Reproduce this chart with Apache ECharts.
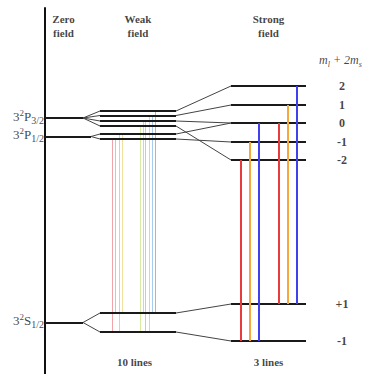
<!DOCTYPE html>
<html><head><meta charset="utf-8">
<script src="https://cdn.jsdelivr.net/npm/echarts@6/dist/echarts.min.js"></script>
<style>html,body{margin:0;padding:0;background:#fff}#c{width:365px;height:374px}</style>
</head><body><div id="c"></div>
<script>
// ---- data (energies in arbitrary units, higher = more energetic) ----
const termNames = ['3²P3/2', '3²P1/2', '3²S1/2'];
const zeroFieldE = [256, 237.5, 51.5];
const weakFieldE = [[263, 258.5, 253, 248], [240, 235], [61, 42]];
const strongLabels = ['2', '1', '0', '-1', '-2'];
const strongE = [288, 269, 251, 232, 214];
const strongSLabels = ['+1', '-1'];
const strongSE = [70, 33];
const weakToStrongP = [[0, 1, 2, 4], [2, 3]];
const weakToStrongS = [0, 1];
// weak-field transitions: [upper term, upper sublevel, lower sublevel]
const weakTransitions = [[1,1,1],[1,1,0],[1,0,1],[1,0,0],[0,3,1],[0,2,0],[0,2,1],[0,1,1],[0,1,0],[0,0,0]];
const weakColors = ['#f0a4a8','#f2b4bc','#f6c894','#f0e0a0','#d6eca0','#b8e4a4','#a8e0b4','#a8e2ec','#a8ccf0','#a8b0e8'];
// strong-field transitions: [upper level, lower level]
const strongTransitions = [[4,1],[3,1],[2,1],[2,0],[1,0],[0,0]];
const strongColors = ['#e83c3c','#f5a83c','#4040ee','#e83c3c','#f5a83c','#4040ee'];
const columnTitles = ['Zero\nfield', 'Weak\nfield', 'Strong\nfield'];
const footerTitles = ['10 lines', '3 lines'];

// ---- layout (diagram x units) ----
const X = { zeroEnd: 38, zeroEndP12: 46, weakStart: 55, weakEnd: 131, strongStart: 186, strongEnd: 261, valLabel: 297 };
const weakTransX = [67.5, 70, 74.5, 77.5, 95.5, 98, 100.5, 104, 107, 110];
const strongTransX = [195.5, 205, 213.5, 233.5, 242.5, 251.5];

const levels = [], connectors = [], texts = [];
zeroFieldE.forEach((e, t) => {
  const xe = t === 1 ? X.zeroEndP12 : X.zeroEnd;
  levels.push({ coords: [[0, e], [xe, e]] });
  weakFieldE[t].forEach((w, k) => {
    connectors.push({ coords: [[xe, e], [X.weakStart, w]] });
    levels.push({ coords: [[X.weakStart, w], [X.weakEnd, w]] });
    const s = t < 2 ? strongE[weakToStrongP[t][k]] : strongSE[weakToStrongS[k]];
    connectors.push({ coords: [[X.weakEnd, w], [X.strongStart, s]] });
  });
});
strongE.concat(strongSE).forEach(e => levels.push({ coords: [[X.strongStart, e], [X.strongEnd, e]] }));

const weakLines = weakTransitions.map((tr, i) => ({
  coords: [[weakTransX[i], weakFieldE[tr[0]][tr[1]]], [weakTransX[i], weakFieldE[2][tr[2]]]],
  lineStyle: { color: weakColors[i] }
}));
const strongLines = strongTransitions.map((tr, i) => ({
  coords: [[strongTransX[i], strongE[tr[0]]], [strongTransX[i], strongSE[tr[1]]]],
  lineStyle: { color: strongColors[i] }
}));

const serif = '"Liberation Serif", "DejaVu Serif", serif';
const termRich = termNames.map(n => {
  const m = n.match(/^(\d)²([PS])(.+)$/);
  return '{n|' + m[1] + '}{sup|2}{n|' + m[2] + '}{sub|' + m[3] + '}';
});
termRich.forEach((r, t) => texts.push({ value: [-1, zeroFieldE[t] + 2], label: { formatter: r, align: 'right' } }));
columnTitles.forEach((s, i) => texts.push({ value: [[18.5, 93, 223.5][i], 348], label: { formatter: s, fontWeight: 'bold', lineHeight: 14 } }));
footerTitles.forEach((s, i) => texts.push({ value: [[89.5, 223.5][i], 12], label: { formatter: s, fontWeight: 'bold' } }));
strongLabels.forEach((s, i) => texts.push({ value: [X.valLabel, strongE[i]], label: { formatter: s, fontWeight: 'bold', fontSize: 12 } }));
strongSLabels.forEach((s, i) => texts.push({ value: [X.valLabel, strongSE[i]], label: { formatter: s, fontWeight: 'bold', fontSize: 12 } }));
texts.push({ value: [274, 314], label: { formatter: '{i|m}{s|l}{i| + 2m}{s|s}', align: 'left' } });

const chart = echarts.init(document.getElementById('c'), null, { renderer: 'svg' });
chart.setOption({
  animation: false,
  backgroundColor: '#fff',
  grid: { left: 0, right: 0, top: 8, bottom: 0 },
  xAxis: { type: 'value', min: -45, max: 320, show: false },
  yAxis: { type: 'value', min: 0, max: 366, splitLine: { show: false }, axisTick: { show: false }, axisLabel: { show: false },
    axisLine: { show: true, onZero: true, lineStyle: { color: '#111', width: 2 } } },
  series: [
    { type: 'lines', coordinateSystem: 'cartesian2d', silent: true, data: weakLines, lineStyle: { width: 1, opacity: 1 }, z: 2 },
    { type: 'lines', coordinateSystem: 'cartesian2d', silent: true, data: connectors, lineStyle: { color: '#444', width: 1, opacity: 1 }, z: 3 },
    { type: 'lines', coordinateSystem: 'cartesian2d', silent: true, data: levels, lineStyle: { color: '#1a1a1a', width: 2, opacity: 1 }, z: 4 },
    { type: 'lines', coordinateSystem: 'cartesian2d', silent: true, data: strongLines, lineStyle: { width: 2, opacity: 1 }, z: 5 },
    { type: 'scatter', symbolSize: 0, silent: true, z: 6, clip: false, data: texts,
      label: { show: true, position: 'inside', color: '#111', fontFamily: serif, fontSize: 11, align: 'center', verticalAlign: 'middle',
        rich: {
          n: { fontFamily: serif, fontSize: 13, color: '#111', lineHeight: 18, verticalAlign: 'middle' },
          sup: { fontFamily: serif, fontSize: 9, color: '#111', lineHeight: 18, verticalAlign: 'top', padding: [1, 0, 0, 0] },
          sub: { fontFamily: serif, fontSize: 10, color: '#111', lineHeight: 18, verticalAlign: 'bottom' },
          i: { fontFamily: serif, fontStyle: 'italic', fontSize: 12, color: '#111', lineHeight: 16, verticalAlign: 'middle' },
          s: { fontFamily: serif, fontStyle: 'italic', fontSize: 8, color: '#111', lineHeight: 16, verticalAlign: 'bottom' }
        } } }
  ]
});
</script></body></html>
